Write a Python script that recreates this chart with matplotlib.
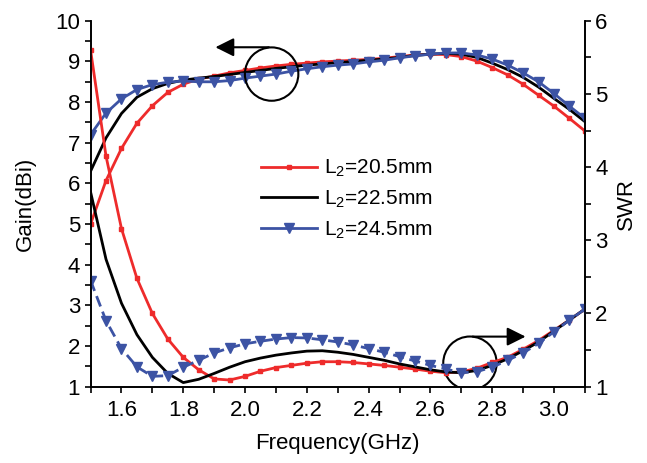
import numpy as np
import matplotlib
matplotlib.use('Agg')
import matplotlib.pyplot as plt
from matplotlib.patches import Ellipse
from matplotlib.ticker import MultipleLocator

plt.rcParams['font.family'] = ['Liberation Sans', 'DejaVu Sans']
plt.rcParams['mathtext.fontset'] = 'custom'
plt.rcParams['mathtext.rm'] = 'Liberation Sans'
plt.rcParams['mathtext.default'] = 'regular'

#%% data, frequency step 0.05 GHz
freq = np.round(np.arange(1.5, 3.1001, 0.05), 2)

gain_205 = [5.00, 6.07, 6.86, 7.48, 7.91, 8.24, 8.44, 8.57, 8.64, 8.72, 8.78,
            8.84, 8.89, 8.93, 8.96, 8.99, 9.01, 9.03, 9.05, 9.08, 9.12, 9.16,
            9.18, 9.17, 9.12, 9.01, 8.85, 8.67, 8.44, 8.17, 7.90, 7.60, 7.29]
gain_225 = [6.30, 7.12, 7.72, 8.12, 8.33, 8.46, 8.54, 8.59, 8.63, 8.68, 8.73,
            8.78, 8.83, 8.87, 8.91, 8.94, 8.97, 9.00, 9.03, 9.06, 9.10, 9.15,
            9.18, 9.20, 9.18, 9.10, 8.96, 8.80, 8.61, 8.37, 8.09, 7.82, 7.52]
gain_245 = [7.20, 7.73, 8.08, 8.31, 8.43, 8.49, 8.52, 8.50, 8.50, 8.53, 8.59,
            8.64, 8.69, 8.76, 8.82, 8.87, 8.91, 8.94, 8.99, 9.03, 9.09, 9.14,
            9.18, 9.21, 9.21, 9.16, 9.06, 8.91, 8.72, 8.50, 8.21, 7.90, 7.60]

swr_205 = [5.60, 4.15, 3.16, 2.48, 2.00, 1.65, 1.40, 1.23, 1.105, 1.09, 1.14,
           1.21, 1.26, 1.29, 1.32, 1.34, 1.34, 1.33, 1.31, 1.29, 1.265, 1.24,
           1.21, 1.19, 1.20, 1.25, 1.33, 1.40, 1.51, 1.63, 1.77, 1.91, 2.06]
swr_225 = [3.66, 2.74, 2.14, 1.71, 1.40, 1.18, 1.055, 1.10, 1.18, 1.265, 1.34,
           1.39, 1.43, 1.46, 1.485, 1.49, 1.47, 1.44, 1.40, 1.36, 1.31, 1.27,
           1.23, 1.20, 1.19, 1.22, 1.29, 1.38, 1.49, 1.61, 1.76, 1.91, 2.06]
swr_245 = [2.45, 1.90, 1.52, 1.27, 1.14, 1.15, 1.265, 1.36, 1.46, 1.53, 1.585,
           1.62, 1.65, 1.67, 1.665, 1.64, 1.61, 1.57, 1.52, 1.47, 1.41, 1.35,
           1.29, 1.24, 1.19, 1.205, 1.265, 1.36, 1.46, 1.59, 1.75, 1.91, 2.06]

labels = [r'L$_{2}$=20.5mm', r'L$_{2}$=22.5mm', r'L$_{2}$=24.5mm']

red = '#EE2B2B'
blue = '#3C53A4'

#%% plot
fig = plt.figure(figsize=(6.47, 4.63), dpi=100)
ax = fig.add_axes([0.140, 0.165, 0.764, 0.790])
ax2 = ax.twinx()

l1, = ax.plot(freq, gain_205, color=red, lw=2, marker='s', ms=3.5, label=labels[0])
l2, = ax.plot(freq, gain_225, color='black', lw=2, label=labels[1])
l3, = ax.plot(freq, gain_245, color=blue, lw=2, marker='v', ms=7.5, label=labels[2])

ax2.plot(freq, swr_205, color=red, lw=2, marker='s', ms=3.5)
ax2.plot(freq, swr_225, color='black', lw=2)
ax2.plot(freq, swr_245, color=blue, lw=2, marker='v', ms=7.5, ls=(0, (4, 2)))

ax.set_xlim(1.5, 3.1)
ax.set_ylim(1, 10)
ax2.set_ylim(1, 6)

ax.xaxis.set_major_locator(MultipleLocator(0.2))
ax.xaxis.set_minor_locator(MultipleLocator(0.1))
ax.yaxis.set_major_locator(MultipleLocator(1))
ax.yaxis.set_minor_locator(MultipleLocator(0.5))
ax2.yaxis.set_major_locator(MultipleLocator(1))
ax2.yaxis.set_minor_locator(MultipleLocator(0.5))
ax.xaxis.set_major_formatter(matplotlib.ticker.FormatStrFormatter('%.1f'))

for a in (ax, ax2):
    a.spines['top'].set_visible(False)
    for s in a.spines.values():
        s.set_linewidth(1.2)
    a.tick_params(which='both', direction='out', width=1.2, length=4, labelsize=16)
ax.tick_params(axis='x', pad=6)

ax.set_xlabel('Frequency(GHz)', fontsize=16, labelpad=8)
ax.set_ylabel('Gain(dBi)', fontsize=16, labelpad=14)
ax2.set_ylabel('SWR', fontsize=16, labelpad=6)

# circles + arrows marking which axis each group belongs to
ax.add_patch(Ellipse((2.086, 8.69), 0.173, 1.313, fill=False, lw=1.5, ec='black', zorder=5))
ax.annotate('', xy=(1.895, 9.35), xytext=(2.086, 9.35),
            arrowprops=dict(arrowstyle='-|>', color='black', lw=1.5, mutation_scale=28))
ax.add_patch(Ellipse((2.728, 1.576), 0.173, 1.313, fill=False, lw=1.5, ec='black', zorder=5))
ax.annotate('', xy=(2.917, 2.23), xytext=(2.728, 2.23),
            arrowprops=dict(arrowstyle='-|>', color='black', lw=1.5, mutation_scale=28))

ax.legend(handles=[l1, l2, l3], loc='upper left', bbox_to_anchor=(0.345, 0.625),
          frameon=False, fontsize=15, handlelength=2.7, handletextpad=0.3,
          labelspacing=0.45, borderpad=0, borderaxespad=0)

fig.savefig('out.png', dpi=100)
